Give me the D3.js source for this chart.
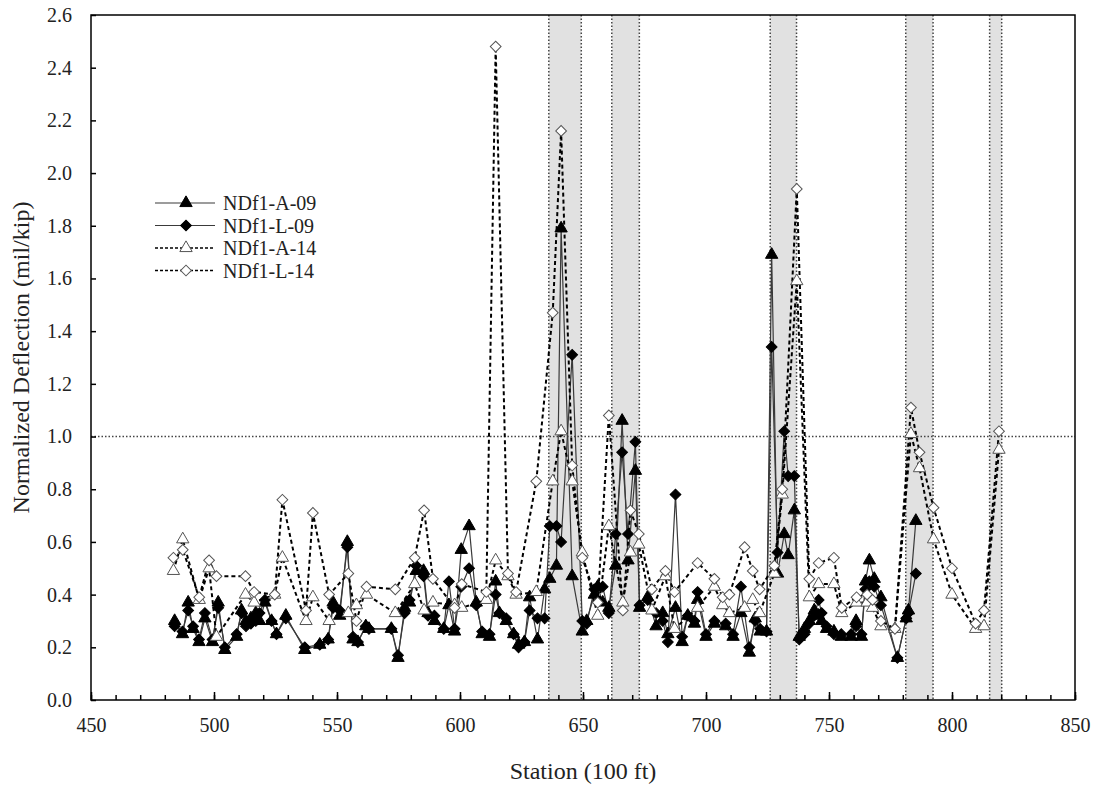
<!DOCTYPE html>
<html>
<head>
<meta charset="utf-8">
<script src="https://cdn.jsdelivr.net/npm/d3@7"></script>
<style>
  body { margin: 0; background: #fff; }
  #chart { width: 1099px; height: 788px; }
  text { font-family: "Liberation Serif", "Times New Roman", serif; fill: #222; }
</style>
</head>
<body>
<div id="chart"></div>
<script>
// 2014 survey stations and values
const station14 = [483.5, 487.3, 494, 498, 501, 512.8, 516.3, 524.7, 527.8, 537.4, 540.2, 546.8, 554.6, 557.9, 562,
  573.7, 581.6, 585.4, 589, 597.8, 600.7, 610.7, 614.5, 619.5, 622.8, 631, 637.7, 641.1, 645.6, 649.7,
  656, 660.5, 666.2, 669.3, 672.7, 678, 683.5, 687.2, 696.6, 703.4, 706.8, 709.5, 715.7, 719, 721.8,
  727.8, 731, 736.9, 742, 745.8, 752, 755.2, 761.2, 765.5, 767.7, 771.1, 776.8, 783.3, 786.8, 792.5,
  800, 809.6, 813, 819.1];
const ndA14 = [0.49, 0.61, 0.38, 0.50, 0.24, 0.40, 0.37, 0.40, 0.54, 0.30, 0.39, 0.30, 0.33, 0.36, 0.40,
  0.33, 0.44, 0.34, 0.37, 0.36, 0.35, 0.38, 0.53, 0.47, 0.40, 0.41, 0.83, 1.02, 0.83, 0.56,
  0.32, 0.66, 0.37, 0.56, 0.59, 0.34, 0.47, 0.27, 0.35, 0.43, 0.36, 0.33, 0.35, 0.38, 0.33,
  0.48, 0.78, 1.59, 0.39, 0.44, 0.44, 0.33, 0.37, 0.37, 0.35, 0.28, 0.27, 1.01, 0.88, 0.61,
  0.40, 0.27, 0.28, 0.95];
const ndL14 = [0.54, 0.57, 0.39, 0.53, 0.47, 0.47, 0.41, 0.40, 0.76, 0.34, 0.71, 0.40, 0.48, 0.30, 0.43,
  0.42, 0.54, 0.72, 0.46, 0.35, 0.44, 0.41, 2.48, 0.48, 0.41, 0.83, 1.47, 2.16, 0.89, 0.54,
  0.37, 1.08, 0.34, 0.72, 0.63, 0.42, 0.49, 0.41, 0.52, 0.46, 0.39, 0.40, 0.58, 0.49, 0.42,
  0.51, 0.80, 1.94, 0.46, 0.52, 0.54, 0.35, 0.39, 0.40, 0.38, 0.30, 0.27, 1.11, 0.94, 0.73,
  0.50, 0.29, 0.34, 1.02];

// 2009 survey stations and values
const station09 = [484, 487.2, 489.5, 491.5, 493.9, 496.3, 499.4, 501.7, 504.4, 509.2, 511.2, 513, 515, 517, 518.5,
  520.7, 523.4, 525.4, 529.2, 536.9, 543, 546.4, 548.4, 551.1, 554.2, 556.5, 558.5, 561.7, 563, 572.1,
  574.8, 577.5, 579.5, 582.2, 585.2, 587, 589.6, 593.4, 595.5, 597.8, 600.5, 603.7, 606.6, 609, 612,
  614.5, 616, 618.8, 621.8, 623.8, 626.2, 628.3, 631.5, 634.4, 636.5, 639.2, 641.1, 645.6, 649.7, 651.5,
  654.6, 656, 658, 660.5, 663.3, 665.9, 668.3, 671.3, 673, 676.3, 679.7, 682.4, 684.5, 687.6, 690.3,
  692.6, 695.3, 696.6, 700, 703.4, 708, 711, 714.2, 717.6, 720, 722, 724.6, 726.7, 729.1, 731.8,
  733.4, 735.9, 737.9, 740, 742, 744, 745.8, 747, 749, 752, 755, 759, 761, 763.2, 764.8,
  766.4, 768.4, 771.1, 777.8, 781.4, 782.3, 785.3];
const ndA09 = [0.30, 0.25, 0.37, 0.27, 0.22, 0.31, 0.22, 0.37, 0.19, 0.24, 0.34, 0.30, 0.31, 0.33, 0.30,
  0.37, 0.30, 0.25, 0.32, 0.19, 0.21, 0.23, 0.37, 0.32, 0.60, 0.23, 0.22, 0.28, 0.27, 0.27,
  0.16, 0.35, 0.37, 0.49, 0.49, 0.33, 0.30, 0.27, 0.36, 0.26, 0.57, 0.66, 0.37, 0.25, 0.24,
  0.45, 0.33, 0.30, 0.25, 0.21, 0.22, 0.39, 0.23, 0.42, 0.46, 0.51, 1.79, 0.47, 0.26, 0.30,
  0.40, 0.43, 0.37, 0.35, 0.51, 1.06, 0.53, 0.87, 0.35, 0.39, 0.28, 0.33, 0.25, 0.35, 0.22,
  0.32, 0.29, 0.38, 0.24, 0.29, 0.28, 0.24, 0.33, 0.18, 0.31, 0.26, 0.26, 1.69, 0.48, 0.63,
  0.55, 0.72, 0.24, 0.27, 0.30, 0.34, 0.32, 0.30, 0.27, 0.26, 0.24, 0.24, 0.30, 0.24, 0.45,
  0.53, 0.46, 0.39, 0.16, 0.31, 0.34, 0.68];
const ndL09 = [0.28, 0.26, 0.34, 0.28, 0.23, 0.33, 0.23, 0.35, 0.20, 0.25, 0.33, 0.28, 0.29, 0.30, 0.33,
  0.38, 0.30, 0.25, 0.31, 0.20, 0.21, 0.23, 0.35, 0.34, 0.58, 0.24, 0.22, 0.28, 0.27, 0.27,
  0.17, 0.33, 0.38, 0.51, 0.47, 0.32, 0.32, 0.27, 0.45, 0.27, 0.43, 0.50, 0.36, 0.26, 0.25,
  0.40, 0.33, 0.31, 0.25, 0.20, 0.22, 0.34, 0.31, 0.31, 0.66, 0.66, 0.60, 1.31, 0.30, 0.29,
  0.42, 0.43, 0.43, 0.33, 0.63, 0.94, 0.63, 0.98, 0.36, 0.38, 0.33, 0.30, 0.22, 0.78, 0.24,
  0.32, 0.30, 0.41, 0.25, 0.30, 0.29, 0.25, 0.43, 0.20, 0.30, 0.27, 0.26, 1.34, 0.56, 1.02,
  0.85, 0.85, 0.23, 0.25, 0.29, 0.32, 0.38, 0.33, 0.28, 0.25, 0.25, 0.25, 0.28, 0.25, 0.42,
  0.45, 0.43, 0.36, 0.16, 0.31, 0.33, 0.48];

// shaded sections [start, end]
const bandStart = [636.1, 661.7, 726.1, 781.2, 815.3];
const bandEnd = [649.3, 672.9, 736.8, 792.3, 820.2];

const xTicks = [450, 500, 550, 600, 650, 700, 750, 800, 850];
const yTicks = [0, 0.2, 0.4, 0.6, 0.8, 1.0, 1.2, 1.4, 1.6, 1.8, 2.0, 2.2, 2.4, 2.6];
const seriesNames = ["NDf1-A-09", "NDf1-L-09", "NDf1-A-14", "NDf1-L-14"];

const margin = { top: 15, right: 24, bottom: 88, left: 91 };
const width = 1099 - margin.left - margin.right;
const height = 788 - margin.top - margin.bottom;

const svg = d3.select("#chart")
  .append("svg")
  .attr("width", 1099)
  .attr("height", 788)
  .append("g")
  .attr("transform", `translate(${margin.left},${margin.top})`);

const x = d3.scaleLinear().domain([450, 850]).range([0, width]);
const y = d3.scaleLinear().domain([0, 2.6]).range([height, 0]);

// shaded bands
const bands = bandStart.map((s, i) => ({ s, e: bandEnd[i] }));
svg.selectAll(".band")
  .data(bands)
  .enter()
  .append("rect")
  .attr("x", d => x(d.s))
  .attr("y", 0)
  .attr("width", d => x(d.e) - x(d.s))
  .attr("height", height)
  .attr("fill", "#e1e1e1");

bands.forEach(d => {
  [d.s, d.e].forEach(v => {
    svg.append("line")
      .attr("x1", x(v)).attr("x2", x(v))
      .attr("y1", 0).attr("y2", height)
      .attr("stroke", "#444")
      .attr("stroke-width", 1.5)
      .attr("stroke-dasharray", "1.5,2");
  });
});

// reference line at 1.0
svg.append("line")
  .attr("x1", 0).attr("x2", width)
  .attr("y1", y(1)).attr("y2", y(1))
  .attr("stroke", "#444")
  .attr("stroke-width", 1.5)
  .attr("stroke-dasharray", "1.5,2");

// axes
svg.append("g")
  .attr("transform", `translate(0,${height})`)
  .call(d3.axisBottom(x).tickValues(d3.range(450, 851, 10)).tickSizeInner(-5).tickSizeOuter(0).tickFormat(""))
  .call(g => g.select(".domain").remove())
  .call(g => g.selectAll("line").attr("stroke", "#000").attr("stroke-width", 1.5));

svg.append("g")
  .attr("transform", `translate(0,${height})`)
  .call(d3.axisBottom(x).tickValues(xTicks).tickSizeInner(-8).tickSizeOuter(0).tickPadding(18).tickFormat(d3.format("d")))
  .call(g => g.select(".domain").remove())
  .call(g => g.selectAll("line").attr("stroke", "#000").attr("stroke-width", 1.5))
  .call(g => g.selectAll("text").style("font-size", "20px").style("font-family", "Liberation Serif").attr("fill", "#222"));

svg.append("g")
  .call(d3.axisLeft(y).tickValues(yTicks).tickSizeInner(-5).tickSizeOuter(0).tickPadding(19).tickFormat(d3.format(".1f")))
  .call(g => g.select(".domain").remove())
  .call(g => g.selectAll("line").attr("stroke", "#000").attr("stroke-width", 1.5))
  .call(g => g.selectAll("text").style("font-size", "20px").style("font-family", "Liberation Serif").attr("fill", "#222"));

// frame
svg.append("rect")
  .attr("width", width)
  .attr("height", height)
  .attr("fill", "none")
  .attr("stroke", "#000")
  .attr("stroke-width", 1.5);

// series
const tri = d3.symbol().type(d3.symbolTriangle).size(66);
const dia = d3.symbol().type(d3.symbolSquare).size(58);

const series = [
  { st: station09, v: ndA09, dash: null, lw: 1.2, lc: "#3a3a3a", shape: tri, rot: 0, fill: "#000", stroke: "#000" },
  { st: station09, v: ndL09, dash: null, lw: 1.2, lc: "#3a3a3a", shape: dia, rot: 45, fill: "#000", stroke: "#000" },
  { st: station14, v: ndA14, dash: "4,3", lw: 2, lc: "#000", shape: tri, rot: 0, fill: "#fff", stroke: "#555" },
  { st: station14, v: ndL14, dash: "4,3", lw: 2, lc: "#000", shape: dia, rot: 45, fill: "#fff", stroke: "#555" }
];

const line = d3.line().x(d => x(d[0])).y(d => y(d[1]));

series.forEach(s => {
  const pts = s.st.map((d, i) => [d, s.v[i]]);
  svg.append("path")
    .datum(pts)
    .attr("fill", "none")
    .attr("stroke", s.lc)
    .attr("stroke-width", s.lw)
    .attr("stroke-dasharray", s.dash)
    .attr("d", line);
});

series.forEach(s => {
  const pts = s.st.map((d, i) => [d, s.v[i]]);
  svg.append("g")
    .selectAll("path")
    .data(pts)
    .enter()
    .append("path")
    .attr("d", s.shape)
    .attr("transform", d => `translate(${x(d[0])},${y(d[1])}) rotate(${s.rot})`)
    .attr("fill", s.fill)
    .attr("stroke", s.stroke)
    .attr("stroke-width", 1);
});

// legend
const legend = svg.append("g").attr("transform", "translate(64,188)");
series.forEach((s, i) => {
  const row = legend.append("g").attr("transform", `translate(0,${i * 22.5})`);
  row.append("line")
    .attr("x1", 0).attr("x2", 60)
    .attr("stroke", s.lc)
    .attr("stroke-width", s.dash ? 1.5 : 1.2)
    .attr("stroke-dasharray", s.dash ? "3,2" : null);
  row.append("path")
    .attr("d", s.shape)
    .attr("transform", `translate(31,0) rotate(${s.rot})`)
    .attr("fill", s.fill)
    .attr("stroke", s.stroke);
  row.append("text")
    .attr("x", 68)
    .attr("dy", "0.35em")
    .style("font-size", "20px")
    .text(seriesNames[i]);
});

// axis titles
svg.append("text")
  .attr("x", width / 2)
  .attr("y", height + 79)
  .attr("text-anchor", "middle")
  .style("font-size", "24px")
  .text("Station (100 ft)");

svg.append("text")
  .attr("transform", "rotate(-90)")
  .attr("x", -height / 2)
  .attr("y", -62)
  .attr("text-anchor", "middle")
  .style("font-size", "24px")
  .text("Normalized Deflection (mil/kip)");
</script>
</body>
</html>
